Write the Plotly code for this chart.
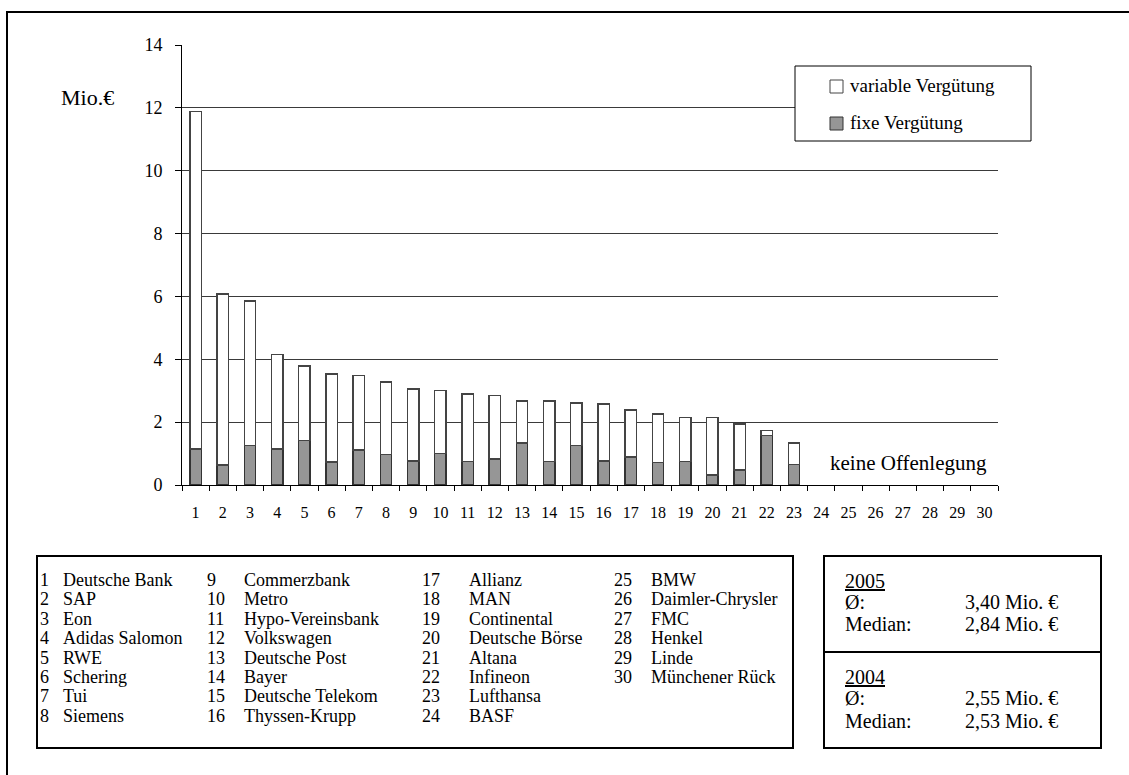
import plotly.graph_objects as go

# ---------------- data ----------------
categories = ["1", "2", "3", "4", "5", "6", "7", "8", "9", "10",
              "11", "12", "13", "14", "15", "16", "17", "18", "19", "20",
              "21", "22", "23", "24", "25", "26", "27", "28", "29", "30"]
fixe = [1.15, 0.64, 1.26, 1.15, 1.42, 0.73, 1.11, 0.97, 0.76, 1.00,
        0.74, 0.83, 1.34, 0.74, 1.26, 0.77, 0.89, 0.71, 0.74, 0.32,
        0.48, 1.58, 0.65, None, None, None, None, None, None, None]
variable = [10.73, 5.43, 4.59, 3.01, 2.36, 2.80, 2.37, 2.30, 2.30, 2.00,
            2.16, 2.01, 1.34, 1.94, 1.35, 1.81, 1.49, 1.55, 1.41, 1.83,
            1.46, 0.15, 0.69, None, None, None, None, None, None, None]
companies = ["Deutsche Bank", "SAP", "Eon", "Adidas Salomon", "RWE", "Schering", "Tui", "Siemens",
             "Commerzbank", "Metro", "Hypo-Vereinsbank", "Volkswagen", "Deutsche Post", "Bayer",
             "Deutsche Telekom", "Thyssen-Krupp", "Allianz", "MAN", "Continental", "Deutsche Börse",
             "Altana", "Infineon", "Lufthansa", "BASF", "BMW", "Daimler-Chrysler", "FMC", "Henkel",
             "Linde", "Münchener Rück"]
stats_2005 = ["3,40 Mio. €", "2,84 Mio. €"]
stats_2004 = ["2,55 Mio. €", "2,53 Mio. €"]
y_ticks = [0, 2, 4, 6, 8, 10, 12, 14]

FONT = "Liberation Serif, Times New Roman, serif"
W, H = 1129, 775
L, R, T, B = 182, 998, 45, 485


def PX(px):
    return (px - L) / (R - L)


def PY(py):
    return (B - py) / (B - T)


fig = go.Figure()
fig.add_trace(go.Bar(x=categories, y=fixe, name="fixe Vergütung",
                     marker=dict(color="#969696", line=dict(color="#333333", width=1.5)),
                     showlegend=False))
fig.add_trace(go.Bar(x=categories, y=variable, name="variable Vergütung",
                     marker=dict(color="#ffffff", line=dict(color="#444444", width=1.5)),
                     showlegend=False))

shapes = []
annotations = []

# outer frame
shapes.append(dict(type="rect", xref="paper", yref="paper",
                   x0=PX(7), x1=PX(1145), y0=PY(12), y1=PY(800),
                   line=dict(color="black", width=2), layer="above"))

# legend box
shapes.append(dict(type="rect", xref="paper", yref="paper",
                   x0=PX(795), x1=PX(1031), y0=PY(66), y1=PY(141),
                   line=dict(color="black", width=1), fillcolor="white", layer="above"))
shapes.append(dict(type="rect", xref="paper", yref="paper",
                   x0=PX(830), x1=PX(843), y0=PY(80), y1=PY(93),
                   line=dict(color="#444444", width=1), fillcolor="white", layer="above"))
shapes.append(dict(type="rect", xref="paper", yref="paper",
                   x0=PX(830), x1=PX(843), y0=PY(117), y1=PY(130),
                   line=dict(color="#333333", width=1), fillcolor="#969696", layer="above"))
annotations.append(dict(text="variable Vergütung", xref="paper", yref="paper",
                        x=PX(848), y=PY(86), xanchor="left", yanchor="middle",
                        showarrow=False, font=dict(family=FONT, size=19, color="black")))
annotations.append(dict(text="fixe Vergütung", xref="paper", yref="paper",
                        x=PX(848), y=PY(123), xanchor="left", yanchor="middle",
                        showarrow=False, font=dict(family=FONT, size=19, color="black")))

# axis unit label
annotations.append(dict(text="Mio.€", xref="paper", yref="paper",
                        x=PX(59), y=PY(97), xanchor="left", yanchor="middle",
                        showarrow=False, font=dict(family=FONT, size=22, color="black")))

# keine Offenlegung
annotations.append(dict(text="keine Offenlegung", xref="paper", yref="paper",
                        x=PX(828), y=PY(463), xanchor="left", yanchor="middle",
                        showarrow=False, font=dict(family=FONT, size=21, color="black")))

# company box
shapes.append(dict(type="rect", xref="paper", yref="paper",
                   x0=PX(37), x1=PX(793), y0=PY(556), y1=PY(748),
                   line=dict(color="black", width=2), layer="above"))
num_x = [38, 205, 420, 612]
name_x = [61, 242, 467, 649]
row_y0, row_dy = 580, 19.4
for i, name in enumerate(companies):
    col, row = divmod(i, 8)
    y = PY(row_y0 + row * row_dy)
    annotations.append(dict(text=categories[i], xref="paper", yref="paper",
                            x=PX(num_x[col]), y=y, xanchor="left", yanchor="middle",
                            showarrow=False, font=dict(family=FONT, size=18, color="black")))
    annotations.append(dict(text=name, xref="paper", yref="paper",
                            x=PX(name_x[col]), y=y, xanchor="left", yanchor="middle",
                            showarrow=False, font=dict(family=FONT, size=18, color="black")))

# stats box
shapes.append(dict(type="rect", xref="paper", yref="paper",
                   x0=PX(824), x1=PX(1101), y0=PY(556), y1=PY(748),
                   line=dict(color="black", width=2), layer="above"))
shapes.append(dict(type="line", xref="paper", yref="paper",
                   x0=PX(824), x1=PX(1101), y0=PY(652), y1=PY(652),
                   line=dict(color="black", width=2), layer="above"))
for year, vals, ys in (("2005", stats_2005, (581, 602, 624)),
                       ("2004", stats_2004, (677, 698, 721))):
    annotations.append(dict(text="<u>" + year + "</u>", xref="paper", yref="paper",
                            x=PX(843), y=PY(ys[0]), xanchor="left", yanchor="middle",
                            showarrow=False, font=dict(family=FONT, size=20, color="black")))
    for lab, val, yy in (("Ø:", vals[0], ys[1]), ("Median:", vals[1], ys[2])):
        annotations.append(dict(text=lab, xref="paper", yref="paper",
                                x=PX(843), y=PY(yy), xanchor="left", yanchor="middle",
                                showarrow=False, font=dict(family=FONT, size=20, color="black")))
        annotations.append(dict(text=val, xref="paper", yref="paper",
                                x=PX(963), y=PY(yy), xanchor="left", yanchor="middle",
                                showarrow=False, font=dict(family=FONT, size=20, color="black")))

fig.update_layout(
    width=W, height=H,
    margin=dict(l=L, r=W - R, t=T, b=H - B, pad=0),
    paper_bgcolor="white", plot_bgcolor="white",
    barmode="stack", bargap=0.58,
    showlegend=False,
    font=dict(family=FONT, color="black"),
    xaxis=dict(type="category", categoryorder="array", categoryarray=categories,
               range=[-0.5, 29.5], tickson="boundaries", ticks="outside", ticklen=5,
               tickcolor="black", tickwidth=1, showline=True, linecolor="black", linewidth=1,
               showgrid=False, zeroline=False, ticklabelstandoff=13,
               tickfont=dict(family=FONT, size=16, color="black")),
    yaxis=dict(range=[0, 14], tickvals=y_ticks, ticks="outside", ticklen=6,
               tickcolor="black", tickwidth=1, showline=True, linecolor="black", linewidth=1,
               showgrid=True, gridcolor="#3a3a3a", gridwidth=1, zeroline=False,
               ticklabelstandoff=9,
               tickfont=dict(family=FONT, size=18, color="black")),
    shapes=shapes, annotations=annotations,
)

fig.write_html("out.html")
